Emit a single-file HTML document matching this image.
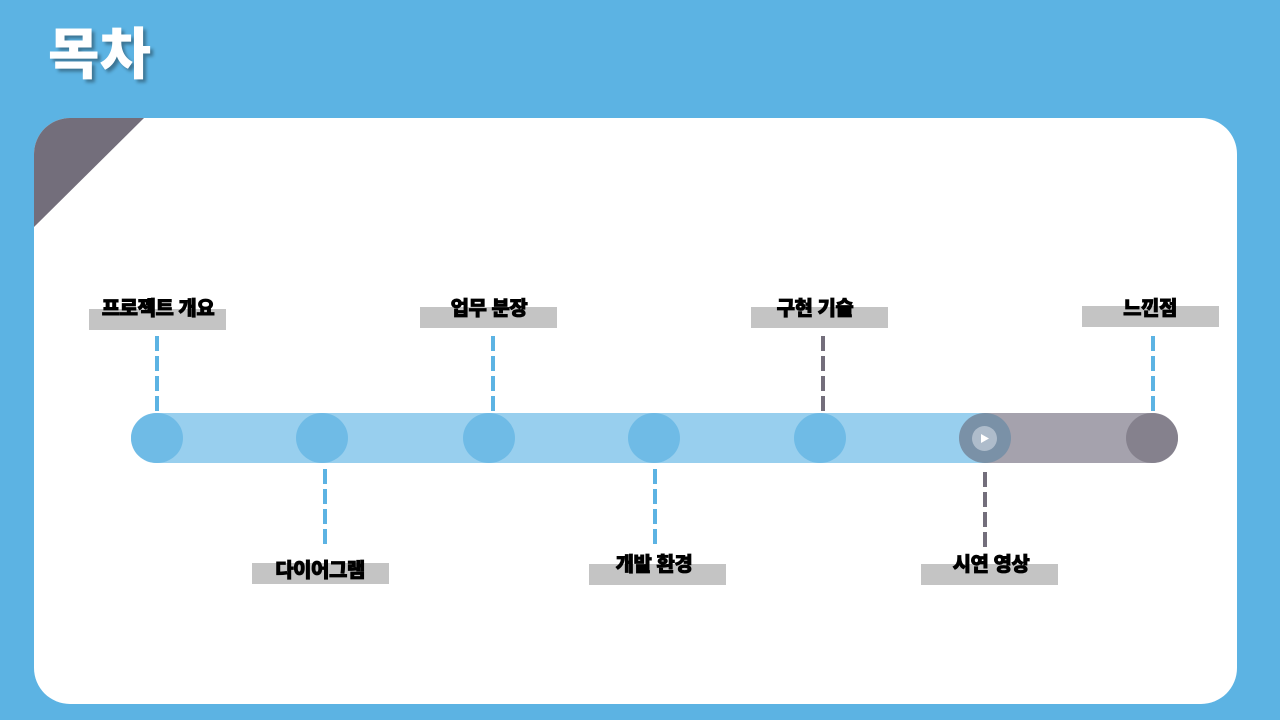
<!DOCTYPE html>
<html><head><meta charset="utf-8"><style>
*{margin:0;padding:0;box-sizing:border-box}
body{width:1280px;height:720px;background:#5cb3e3;position:relative;overflow:hidden;font-family:"Liberation Sans","Noto Sans CJK KR","NanumGothic",sans-serif}
.title{position:absolute;left:48px;top:10px;font-size:56px;font-weight:900;color:#fff;letter-spacing:0px;text-shadow:3px 3px 3px rgba(0,0,0,.35)}
.card{position:absolute;left:34px;top:118px;width:1203px;height:586px;background:#fff;border-radius:36px;overflow:hidden}
.box{position:absolute;width:137px;height:21px;background:#c4c4c4}
.lbl{position:absolute;width:200px;text-align:center;font-size:20px;font-weight:900;color:#000;-webkit-text-stroke:0.8px #000;letter-spacing:-0.5px}
.dash{position:absolute;width:4px}
.c{position:absolute;width:52px;height:50px;border-radius:50%;top:413px}
</style></head><body>
<div class="title">목차</div>
<div class="card">
<svg width="110" height="110" style="position:absolute;left:0;top:0"><polygon points="0,0 110,0 0,109" fill="#736e7b"/></svg>
</div>
<div style="position:absolute;left:131px;top:413px;width:880px;height:50px;background:#98cfee;border-radius:25px 0 0 25px"></div>
<div style="position:absolute;left:985px;top:413px;width:193px;height:50px;background:#a5a2ad;border-radius:0 25px 25px 0"></div>
<div class="c" style="left:131px;background:#6fbbe6"></div>
<div class="c" style="left:296px;background:#6fbbe6"></div>
<div class="c" style="left:463px;background:#6fbbe6"></div>
<div class="c" style="left:628px;background:#6fbbe6"></div>
<div class="c" style="left:794px;background:#6fbbe6"></div>
<div class="c" style="left:959px;background:#7a91a7"></div>
<div class="c" style="left:1126px;background:#85818d"></div>
<div style="position:absolute;left:972px;top:426px;width:25px;height:25px;border-radius:50%;background:#aebccb"></div>
<svg style="position:absolute;left:980px;top:433px" width="10" height="11"><polygon points="1,1 9,5.5 1,10" fill="#fff"/></svg>
<div class="dash" style="left:155px;top:336px;height:75px;background:repeating-linear-gradient(#5cb3e3 0 15px,transparent 15px 20px)"></div>
<div class="dash" style="left:491px;top:336px;height:75px;background:repeating-linear-gradient(#5cb3e3 0 15px,transparent 15px 20px)"></div>
<div class="dash" style="left:821px;top:336px;height:75px;background:repeating-linear-gradient(#736e7b 0 15px,transparent 15px 20px)"></div>
<div class="dash" style="left:1151px;top:336px;height:75px;background:repeating-linear-gradient(#5cb3e3 0 15px,transparent 15px 20px)"></div>
<div class="dash" style="left:323px;top:469px;height:75px;background:repeating-linear-gradient(#5cb3e3 0 15px,transparent 15px 20px)"></div>
<div class="dash" style="left:653px;top:469px;height:75px;background:repeating-linear-gradient(#5cb3e3 0 15px,transparent 15px 20px)"></div>
<div class="dash" style="left:983px;top:472px;height:75px;background:repeating-linear-gradient(#736e7b 0 15px,transparent 15px 20px)"></div>
<div class="box" style="left:89px;top:309px"></div>
<div class="box" style="left:420px;top:307px"></div>
<div class="box" style="left:751px;top:307px"></div>
<div class="box" style="left:1082px;top:306px"></div>
<div class="box" style="left:252px;top:563px"></div>
<div class="box" style="left:589px;top:564px"></div>
<div class="box" style="left:921px;top:564px"></div>
<div class="lbl" style="left:58px;top:292px">프로젝트 개요</div>
<div class="lbl" style="left:389px;top:292px">업무 분장</div>
<div class="lbl" style="left:715px;top:292px">구현 기술</div>
<div class="lbl" style="left:1050px;top:292px">느낀점</div>
<div class="lbl" style="left:220px;top:554px">다이어그램</div>
<div class="lbl" style="left:554px;top:548px">개발 환경</div>
<div class="lbl" style="left:891px;top:548px">시연 영상</div>
</body></html>
